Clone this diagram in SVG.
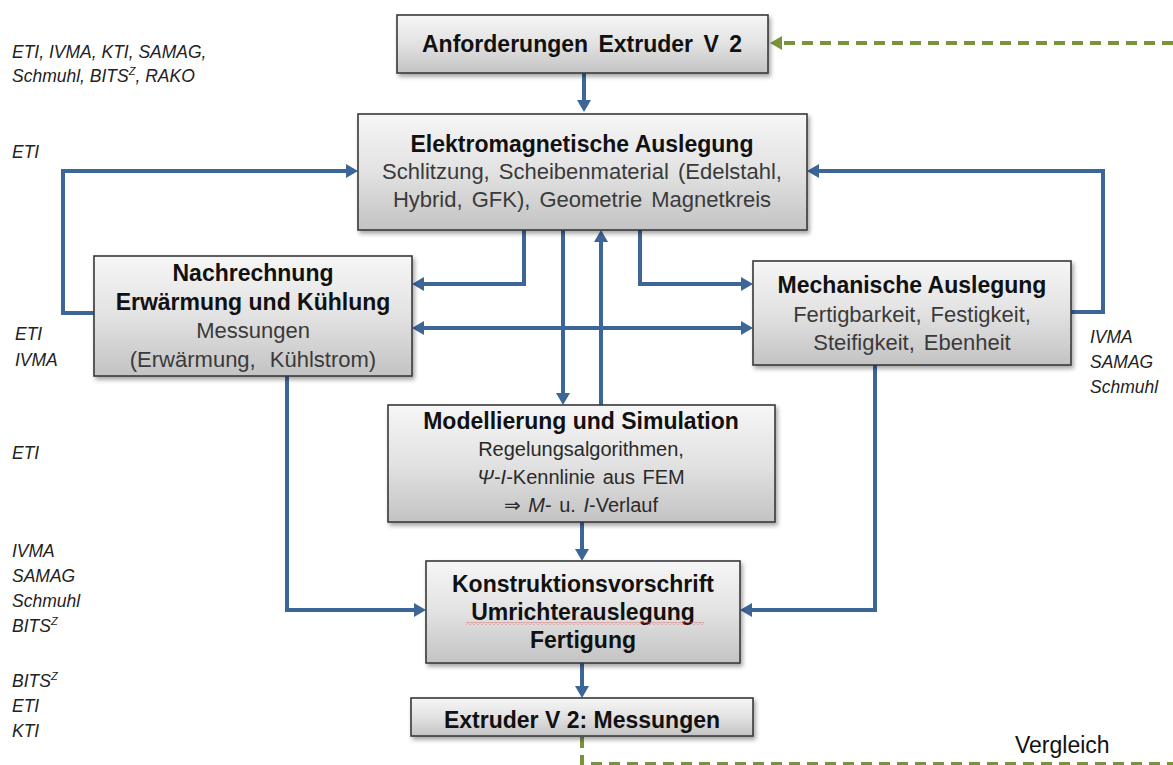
<svg xmlns="http://www.w3.org/2000/svg" width="1173" height="765" viewBox="0 0 1173 765">
<style>
  .box { fill: url(#boxGrad); stroke: #3a3a3a; stroke-width: 1.6; filter: url(#shadow); }
  .t { font-family: "Liberation Sans", "DejaVu Sans", sans-serif; text-anchor: middle; }
  .b { font-weight: bold; font-size: 23px; fill: #111; }
  .r { font-size: 22px; fill: #3a3a3a; word-spacing: 3px; }
  .rs { font-size: 20px; fill: #2a2a2a; word-spacing: 2px; }
  .lab { font-family: "Liberation Sans", "DejaVu Sans", sans-serif; font-style: italic; font-size: 17.5px; fill: #222; }
  .con { fill: none; stroke: #3d6698; stroke-width: 4; }
  .conA { marker-end: url(#ah); }
  .green { fill: none; stroke: #77933c; stroke-width: 4; stroke-dasharray: 11 7; }
</style>
<defs>
  <linearGradient id="boxGrad" x1="0" y1="0" x2="0" y2="1">
    <stop offset="0" stop-color="#f6f6f6"/>
    <stop offset="0.5" stop-color="#e2e2e2"/>
    <stop offset="1" stop-color="#c3c3c3"/>
  </linearGradient>
  <filter id="shadow" x="-5%" y="-10%" width="115%" height="130%">
    <feDropShadow dx="2" dy="3" stdDeviation="2" flood-color="#000" flood-opacity="0.35"/>
  </filter>
  <marker id="ah" viewBox="0 0 12 14" refX="4" refY="7" markerWidth="12" markerHeight="14" markerUnits="userSpaceOnUse" orient="auto-start-reverse">
    <path d="M0,0 L12,7 L0,14 z" fill="#3d6698"/>
  </marker>
  <marker id="ahg" viewBox="0 0 12 14" refX="4" refY="7" markerWidth="12" markerHeight="14" markerUnits="userSpaceOnUse" orient="auto">
    <path d="M0,0 L12,7 L0,14 z" fill="#77933c"/>
  </marker>
  <pattern id="squig" width="4" height="3" patternUnits="userSpaceOnUse">
    <path d="M0,2.5 L2,0.5 L4,2.5" fill="none" stroke="#e06060" stroke-width="0.8"/>
  </pattern>
</defs>

<g id="connectors">
  <path class="green" d="M1173,43 H778" marker-end="url(#ahg)"/>
  <path class="green" d="M582,737 V764 H1173"/>
  <path class="con conA" d="M584,73 V104"/>
  <path class="con conA" d="M94,313 H63 V171 H350"/>
  <path class="con conA" d="M1071,312 H1103 V171 H815"/>
  <path class="con conA" d="M524,230 V284 H420"/>
  <path class="con conA" d="M640,230 V284 H745"/>
  <path class="con" d="M420,328 H745" marker-start="url(#ah)" marker-end="url(#ah)"/>
  <path class="con conA" d="M563,230 V397"/>
  <path class="con conA" d="M601,405 V238"/>
  <path class="con conA" d="M287,376 V610 H418"/>
  <path class="con conA" d="M875,365 V610 H748"/>
  <path class="con conA" d="M582,522 V553"/>
  <path class="con conA" d="M582,663 V690"/>
</g>

<g id="n-anforderungen">
  <rect class="box" x="397" y="15" width="371" height="58"/>
  <text class="t b" x="582" y="52" style="word-spacing:4px">Anforderungen Extruder V 2</text>
</g>

<g id="n-elektromagnetisch">
  <rect class="box" x="358" y="114" width="449" height="116"/>
  <text class="t b" x="582" y="152">Elektromagnetische Auslegung</text>
  <text class="t r" x="582" y="179">Schlitzung, Scheibenmaterial (Edelstahl,</text>
  <text class="t r" x="582" y="207">Hybrid, GFK), Geometrie Magnetkreis</text>
</g>

<g id="n-nachrechnung">
  <rect class="box" x="94" y="256" width="318" height="120"/>
  <text class="t b" x="253" y="281">Nachrechnung</text>
  <text class="t b" x="253" y="310">Erwärmung und Kühlung</text>
  <text class="t r" x="253" y="338">Messungen</text>
  <text class="t r" x="253" y="367" style="word-spacing:8px">(Erwärmung, Kühlstrom)</text>
</g>

<g id="n-mechanisch">
  <rect class="box" x="753" y="261" width="318" height="104"/>
  <text class="t b" x="912" y="293">Mechanische Auslegung</text>
  <text class="t r" x="912" y="322">Fertigbarkeit, Festigkeit,</text>
  <text class="t r" x="912" y="350">Steifigkeit, Ebenheit</text>
</g>

<g id="n-modellierung">
  <rect class="box" x="388" y="405" width="387" height="117"/>
  <text class="t b" x="581" y="429">Modellierung und Simulation</text>
  <text class="t rs" x="581" y="456">Regelungsalgorithmen,</text>
  <text class="t rs" x="581" y="484"><tspan font-style="italic">Ψ</tspan>-<tspan font-style="italic">I</tspan>-Kennlinie aus FEM</text>
  <text class="t rs" x="581" y="512">⇒ <tspan font-style="italic">M</tspan>- u. <tspan font-style="italic">I</tspan>-Verlauf</text>
</g>

<g id="n-konstruktion">
  <rect class="box" x="426" y="561" width="314" height="102"/>
  <text class="t b" x="583" y="592">Konstruktionsvorschrift</text>
  <text class="t b" x="583" y="620">Umrichterauslegung</text>
  <rect x="466" y="622" width="238" height="3" fill="url(#squig)"/>
  <text class="t b" x="583" y="648">Fertigung</text>
</g>

<g id="n-messungen">
  <rect class="box" x="411" y="698" width="342" height="38"/>
  <text class="t b" x="582" y="728">Extruder V 2: Messungen</text>
</g>

<g id="labels">
  <text class="lab" x="12" y="58">ETI, IVMA, KTI, SAMAG,</text>
  <text class="lab" x="12" y="82">Schmuhl, BITS<tspan dy="-7" font-size="11">Z</tspan><tspan dy="7">, RAKO</tspan></text>
  <text class="lab" x="12" y="158">ETI</text>
  <text class="lab" x="15" y="340">ETI</text>
  <text class="lab" x="15" y="366">IVMA</text>
  <text class="lab" x="12" y="459">ETI</text>
  <text class="lab" x="12" y="557">IVMA</text>
  <text class="lab" x="12" y="582">SAMAG</text>
  <text class="lab" x="12" y="607">Schmuhl</text>
  <text class="lab" x="12" y="632">BITS<tspan dy="-7" font-size="11">Z</tspan></text>
  <text class="lab" x="12" y="687">BITS<tspan dy="-7" font-size="11">Z</tspan></text>
  <text class="lab" x="12" y="712">ETI</text>
  <text class="lab" x="12" y="737">KTI</text>
  <text class="lab" x="1090" y="343">IVMA</text>
  <text class="lab" x="1090" y="368">SAMAG</text>
  <text class="lab" x="1090" y="393">Schmuhl</text>
  <text x="1015" y="753" font-family="Liberation Sans, sans-serif" font-size="23" fill="#111">Vergleich</text>
</g>
</svg>
